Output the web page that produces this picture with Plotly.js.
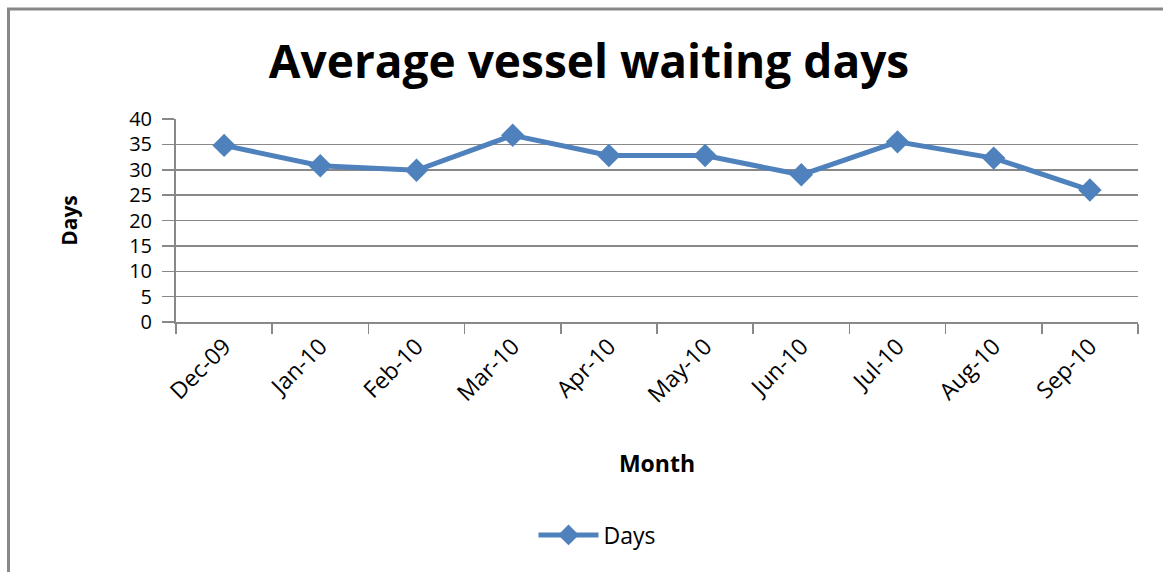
<!DOCTYPE html>
<html>
<head>
<meta charset="utf-8">
<script src="https://cdn.plot.ly/plotly-3.0.1.min.js"></script>
<style>
html,body{margin:0;padding:0;background:#fff;}
#chart{width:1163px;height:572px;}
</style>
</head>
<body>
<div id="chart"></div>
<script>
const months = ["Dec-09","Jan-10","Feb-10","Mar-10","Apr-10","May-10","Jun-10","Jul-10","Aug-10","Sep-10"];
const days = [34.8, 30.8, 29.9, 36.8, 32.8, 32.8, 29, 35.5, 32.3, 26];
const chartTitle = "Average vessel waiting days";
const xTitle = "Month";
const yTitle = "Days";
const seriesName = "Days";

const W = 1163, L = 176, R = 25, T = 119, B = 250;
const pw = W - L - R, ph = 572 - T - B;
const px = v => (v - L) / pw;
const py = v => (572 - B - v) / ph;

const trace = {
  x: months, y: days, name: seriesName, type: "scatter", mode: "lines+markers",
  line: {color: "#4F81BD", width: 5},
  marker: {symbol: "diamond", size: 18, color: "#4F81BD"}
};

const font = "'Open Sans', sans-serif";
const layout = {
  width: W, height: 572,
  margin: {l: L, r: R, t: T, b: B},
  paper_bgcolor: "#fff", plot_bgcolor: "#fff",
  font: {family: font, color: "#000"},
  title: {text: "<b>" + chartTitle + "</b>", font: {size: 46, family: font, color: "#000"},
          x: 589 / W, xanchor: "center", y: 1 - 62 / 572, yanchor: "middle"},
  showlegend: true,
  legend: {orientation: "h", x: px(597), xanchor: "center", y: py(535), yanchor: "middle",
           font: {size: 23, family: font, color: "#000"}, itemwidth: 60},
  xaxis: {
    type: "category", range: [-0.5, 9.5], showgrid: false, showline: true, linecolor: "#888", linewidth: 2,
    ticks: "outside", ticklen: 10, tickcolor: "#888", tickwidth: 1.5, tickson: "boundaries",
    tickangle: -45, tickfont: {size: 23, family: font, color: "#000"},
    title: {text: "<b>" + xTitle + "</b>", font: {size: 23, family: font, color: "#000"}, standoff: 48},
    automargin: false, fixedrange: true
  },
  yaxis: {
    range: [0, 40], dtick: 5, tick0: 0, showgrid: true, gridcolor: "#888", gridwidth: 1.5,
    zeroline: false, showline: true, linecolor: "#888", linewidth: 2,
    ticks: "outside", ticklen: 12, tickcolor: "#888", tickwidth: 1.5, ticklabelstandoff: 6,
    tickfont: {size: 20, family: font, color: "#000"},
    title: {text: "<b>" + yTitle + "</b>", font: {size: 21, family: font, color: "#000"}, standoff: 46},
    automargin: false, fixedrange: true
  },
  shapes: [
    {type: "line", xref: "paper", yref: "paper", x0: px(7), x1: px(1163), y0: py(9), y1: py(9),
     line: {color: "#888", width: 3}},
    {type: "line", xref: "paper", yref: "paper", x0: px(8.5), x1: px(8.5), y0: py(8), y1: py(572),
     line: {color: "#888", width: 3}}
  ]
};

Plotly.newPlot("chart", [trace], layout, {displayModeBar: false, staticPlot: true});
</script>
</body>
</html>
